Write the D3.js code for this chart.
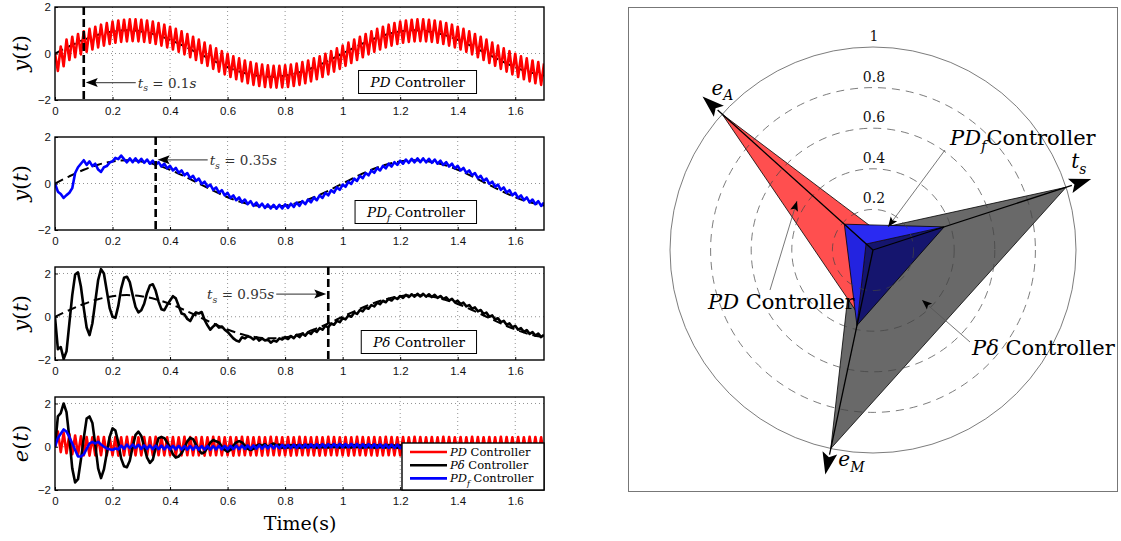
<!DOCTYPE html>
<html>
<head>
<meta charset="utf-8">
<script src="https://cdn.jsdelivr.net/npm/d3@7"></script>
<style>
	body { margin: 0; background: #fff; }
	svg { display: block; }
</style>
</head>
<body>
<script>
// =================================================
// data
// =================================================
var dt = 0.01,        // sample step of the responses (s)
	refStep = 0.05;   // sample step of the reference (s)

var xTicks = [0, 0.2, 0.4, 0.6, 0.8, 1, 1.2, 1.4, 1.6],
	xTickLabels = ["0", "0.2", "0.4", "0.6", "0.8", "1", "1.2", "1.4", "1.6"],
	yTicks = [-2, 0, 2],
	yTickLabels = ["\u22122", "0", "2"];

// reference trajectory (dashed)
var yRef = [0, .31, .59, .81, .95, 1, .95, .81, .59, .31,
	0, -.31, -.59, -.81, -.95, -1, -.95, -.81, -.59, -.31,
	0, .31, .59, .81, .95, 1, .95, .81, .59, .31,
	0, -.31, -.59, -.81, -.95];

// PD controller output
var yPD = [
	0, -.75, .3, -.55, .6, -.28, .72, -.16, .84, -.04,
	.95, .07, 1.06, .17, 1.15, .26, 1.24, .34, 1.31, .41,
	1.37, .46, 1.42, .5, 1.45, .52, 1.47, .53, 1.47, .52,
	1.45, .5, 1.42, .46, 1.37, .41, 1.31, .34, 1.24, .26,
	1.15, .17, 1.06, .07, .95, -.04, .84, -.16, .72, -.28,
	.6, -.41, .47, -.53, .34, -.66, .22, -.78, .1, -.9,
	-.01, -1.01, -.12, -1.11, -.21, -1.2, -.3, -1.28, -.37, -1.35,
	-.43, -1.4, -.48, -1.44, -.51, -1.46, -.53, -1.47, -.53, -1.46,
	-.51, -1.44, -.48, -1.4, -.43, -1.35, -.37, -1.28, -.3, -1.2,
	-.21, -1.11, -.12, -1.01, -.01, -.9, .1, -.78, .22, -.66,
	.34, -.53, .47, -.41, .6, -.28, .72, -.16, .84, -.04,
	.95, .07, 1.06, .17, 1.15, .26, 1.24, .34, 1.31, .41,
	1.37, .46, 1.42, .5, 1.45, .52, 1.47, .53, 1.47, .52,
	1.45, .5, 1.42, .46, 1.37, .41, 1.31, .34, 1.24, .26,
	1.15, .17, 1.06, .07, .95, -.04, .84, -.16, .72, -.28,
	.6, -.41, .47, -.53, .34, -.66, .22, -.78, .1, -.9,
	-.01, -1.01, -.12, -1.11, -.21, -1.2, -.3, -1.28, -.37, -1.35,
	-.43];

// PD_f controller output
var yPDf = [
	0, -.35, -.45, -.62, -.5, -.4, -.2, .45, .7, .85,
	1.0, .8, .95, .75, .85, .6, .5, .7, .75, .9,
	.95, 1.1, 1.05, 1.2, 1.05, .91, 1.08, .92, 1.08, .91,
	1.06, .89, 1.03, .85, .98, .8, .92, .73, .85, .65,
	.76, .56, .67, .46, .56, .35, .45, .23, .33, .11,
	.21, -.02, .08, -.14, -.05, -.27, -.17, -.39, -.29, -.51,
	-.4, -.62, -.51, -.72, -.6, -.81, -.69, -.89, -.76, -.96,
	-.82, -1.01, -.87, -1.05, -.9, -1.07, -.92, -1.08, -.92, -1.07,
	-.9, -1.05, -.87, -1.01, -.82, -.96, -.76, -.89, -.69, -.81,
	-.6, -.72, -.51, -.62, -.4, -.51, -.29, -.39, -.17, -.27,
	-.05, -.14, .08, -.02, .21, .11, .33, .23, .45, .35,
	.56, .46, .67, .56, .76, .65, .85, .73, .92, .8,
	.98, .85, 1.03, .89, 1.06, .91, 1.08, .92, 1.08, .91,
	1.06, .89, 1.03, .85, .98, .8, .92, .73, .85, .65,
	.76, .56, .67, .46, .56, .35, .45, .23, .33, .11,
	.21, -.02, .08, -.14, -.05, -.27, -.17, -.39, -.29, -.51,
	-.4, -.62, -.51, -.72, -.6, -.81, -.69, -.89, -.76, -.96,
	-.82];

// P-delta controller output
var yPdelta = [
	0, -1.5, -1.4, -1.95, -1.6, -.3, 1.0, 1.95, 2.05, 1.4,
	.4, -.5, -.85, -.3, .7, 1.7, 2.2, 2.0, 1.2, .4,
	0, -.05, .5, 1.3, 1.8, 1.85, 1.6, 1.0, .45, .2,
	.3, .6, 1.1, 1.45, 1.5, 1.2, .7, .35, .3, .55,
	.75, .95, .85, .5, .15, .1, -.1, -.2, .05, .2,
	.15, .22, -.15, -.4, -.6, -.45, -.35, -.5, -.45, -.6,
	-.7, -.85, -1.0, -1.1, -1.15, -.95, -1.0, -.9, -.95, -1.05,
	-.95, -1.1, -1.0, -1.1, -1.05, -1.2, -1.1, -1.15, -1.0, -1.05,
	-.95, -1.03, -.89, -.99, -.84, -.94, -.78, -.87, -.71, -.79,
	-.62, -.7, -.53, -.6, -.42, -.49, -.31, -.37, -.19, -.25,
	-.07, -.12, .06, 0, .19, .13, .31, .25, .43, .37,
	.54, .48, .65, .58, .74, .67, .83, .75, .9, .82,
	.96, .87, 1.01, .91, 1.04, .93, 1.06, .94, 1.06, .93,
	1.04, .91, 1.01, .87, .96, .82, .9, .75, .83, .67,
	.74, .58, .65, .48, .54, .37, .43, .25, .31, .13,
	.19, 0, .06, -.12, -.07, -.25, -.19, -.37, -.31, -.49,
	-.42, -.6, -.53, -.7, -.62, -.79, -.71, -.87, -.78, -.94,
	-.84];

// tracking errors
var ePD = [
	0, .7, -.25, .65, -.3, .58, -.35, .52, -.38, .48,
	-.4, .45, -.41, .44, -.4, .46, -.39, .45, -.4, .44,
	-.4, .45, -.41, .44, -.4, .46, -.39, .45, -.4, .44,
	-.4, .45, -.41, .44, -.4, .46, -.39, .45, -.4, .44,
	-.4, .45, -.41, .44, -.4, .46, -.39, .45, -.4, .44,
	-.4, .45, -.41, .44, -.4, .46, -.39, .45, -.4, .44,
	-.4, .45, -.41, .44, -.4, .46, -.39, .45, -.4, .44,
	-.4, .45, -.41, .44, -.4, .46, -.39, .45, -.4, .44,
	-.4, .45, -.41, .44, -.4, .46, -.39, .45, -.4, .44,
	-.4, .45, -.41, .44, -.4, .46, -.39, .45, -.4, .44,
	-.4, .45, -.41, .44, -.4, .46, -.39, .45, -.4, .44,
	-.4, .45, -.41, .44, -.4, .46, -.39, .45, -.4, .44,
	-.4, .45, -.41, .44, -.4, .46, -.39, .45, -.4, .44,
	-.4, .45, -.41, .44, -.4, .46, -.39, .45, -.4, .44,
	-.4, .45, -.41, .44, -.4, .46, -.39, .45, -.4, .44,
	-.4, .45, -.41, .44, -.4, .46, -.39, .45, -.4, .44,
	-.4, .45, -.41, .44, -.4, .46, -.39, .45, -.4, .44,
	-.4];

var ePdelta = [
	0, 1.4, 1.55, 2.0, 1.6, .4, -1.0, -1.65, -1.5, -.6,
	.4, 1.3, 1.4, 1.1, .1, -1.0, -1.45, -1.05, -.3, .45,
	.85, .75, .2, -.55, -.9, -.95, -.65, 0, .55, .7,
	.5, 0, -.5, -.75, -.6, -.05, .4, .45, .4, .2,
	-.05, -.35, -.5, -.45, -.3, -.05, .25, .41, .35, .1,
	-.15, -.31, -.25, -.05, .2, .31, .25, .2, 0, -.15,
	-.23, -.15, .05, .2, .26, .2, .05, -.1, -.15, -.1,
	.05, .1, .05, .12, 0, .08, .15, .05, .1, -.05,
	.05, -.04, .08, -.02, .07, -.05, .06, -.03, .09, -.02,
	.06, -.05, .07, -.03, .05, -.04, .08, -.02, .06, -.05,
	.07, -.03, .05, -.04, .08, -.02, .06, -.05, .07, -.03,
	.06, -.05, .07, -.03, .05, -.04, .08, -.02, .06, -.05,
	.07, -.03, .05, -.04, .08, -.02, .06, -.05, .07, -.03,
	.06, -.05, .07, -.03, .05, -.04, .08, -.02, .06, -.05,
	.07, -.03, .05, -.04, .08, -.02, .06, -.05, .07, -.03,
	.06, -.05, .07, -.03, .05, -.04, .08, -.02, .06, -.05,
	.07, -.03, .05, -.04, .08, -.02, .06, -.05, .07, -.03,
	.05];

var ePDf = [
	0, .4, .6, .8, .7, .45, .15, -.15, -.45, -.45,
	-.35, -.1, .15, .23, .15, .23, .1, 0, -.08, -.12,
	-.15, -.08, -.12, .05, -.1, .1, -.06, .1, -.05, .09,
	-.1, .06, -.1, .06, -.11, .05, -.11, .05, -.12, .05,
	-.12, .04, -.12, .04, -.13, .03, -.13, .03, -.13, .03,
	-.13, .03, -.13, .03, -.13, .03, -.12, .04, -.12, .04,
	-.12, .04, -.11, .05, -.11, .05, -.1, .06, -.1, .06,
	-.09, .07, -.09, .07, -.08, .08, -.08, .08, -.07, .09,
	-.07, .09, -.06, .1, -.06, .1, -.05, .11, -.05, .11,
	-.04, .12, -.04, .12, -.04, .12, -.03, .13, -.03, .13,
	-.03, .13, -.03, .13, -.03, .13, -.04, .12, -.04, .12,
	-.04, .12, -.05, .11, -.05, .11, -.06, .1, -.06, .1,
	-.07, .09, -.07, .09, -.08, .08, -.08, .08, -.09, .07,
	-.1, .06, -.1, .06, -.11, .05, -.11, .05, -.12, .05,
	-.12, .04, -.12, .04, -.13, .03, -.13, .03, -.13, .03,
	-.13, .03, -.13, .03, -.13, .03, -.12, .04, -.12, .04,
	-.12, .04, -.11, .05, -.11, .05, -.1, .06, -.1, .06,
	-.09];

// settling times: PD, PD_f, P-delta
var settlingTimes = [0.1, 0.35, 0.95],
	settlingLabels = ["0.1", "0.35", "0.95"];

// spider chart (normalised), same controller order
var radarEA = [1.0, 0.19, 0.12],
	radarEM = [0.33, 0.38, 1.0],
	radarTs = settlingTimes.map(function(v) { return v / d3.max(settlingTimes); }),
	ringLevels = [0.2, 0.4, 0.6, 0.8, 1],
	ringLabels = ["0.2", "0.4", "0.6", "0.8", "1"];

// =================================================
// helpers
// =================================================
var SERIF = "'DejaVu Serif', 'Liberation Serif', serif",
	SANS = "'Liberation Sans', Arial, sans-serif";

var svg = d3.select("body").append("svg")
	.attr("width", 1121)
	.attr("height", 541);

// text made of italic / upright / subscript pieces
function mathText(g, px, py, parts, size, anchor) {
	var t = g.append("text")
		.attr("x", px)
		.attr("y", py)
		.attr("font-family", SERIF)
		.attr("font-size", size)
		.attr("text-anchor", anchor || "start");
	var shift = 0;
	parts.forEach(function(p) {
		var s = t.append("tspan").text(p.t);
		if (p.it) s.attr("font-style", "italic");
		var want = p.sub ? size * 0.28 : 0;
		if (want !== shift) {
			s.attr("dy", want - shift);
			shift = want;
		}
		if (p.sub) s.attr("font-size", size * 0.7);
	});
	return t;
}

// filled arrow head, tip at (px,py), pointing along deg (screen degrees)
function arrowHead(g, px, py, deg, len, wid) {
	var pts = [[0, 0], [-len, -wid / 2], [-len * 0.8, 0], [-len, wid / 2]];
	g.append("path")
		.attr("d", "M" + pts.join("L") + "Z")
		.attr("transform", "translate(" + px + "," + py + ") rotate(" + deg + ")")
		.attr("fill", "#000");
}

var tsParts = function(v) {
	return [{ t: "t", it: 1 }, { t: "s", it: 1, sub: 1 }, { t: " = " + v }, { t: "s", it: 1 }];
};

// =================================================
// left column: time responses
// =================================================
var x = d3.scaleLinear().domain([0, 1.7]).range([55, 544]);
var plotTop = [7, 137, 267, 397],
	plotH = 93;

var panels = [
	{ ymax: 2, lab: "y", ref: true, series: [{ v: yPD, c: "#ff0000" }], ts: 0,
		note: { y: -1.25, dir: 1 }, legend: [{ t: "PD", it: 1 }, { t: " Controller" }] },
	{ ymax: 2, lab: "y", ref: true, series: [{ v: yPDf, c: "#0000ff" }], ts: 1,
		note: { y: 1.02, dir: 1 }, legend: [{ t: "PD", it: 1 }, { t: "f", it: 1, sub: 1 }, { t: " Controller" }] },
	{ ymax: 2.3, lab: "y", ref: true, series: [{ v: yPdelta, c: "#000000" }], ts: 2,
		note: { y: 1.05, dir: -1 }, legend: [{ t: "P\u03b4", it: 1 }, { t: " Controller" }] },
	{ ymax: 2.3, lab: "e", ref: false, series: [
		{ v: ePD, c: "#ff0000" }, { v: ePdelta, c: "#000000" }, { v: ePDf, c: "#0000ff" }] }
];

panels.forEach(function(p, i) {
	var top = plotTop[i],
		y = d3.scaleLinear().domain([-2, p.ymax]).range([top + plotH, top]),
		g = svg.append("g");

	svg.append("clipPath").attr("id", "clip" + i)
		.append("rect")
		.attr("x", x(0)).attr("y", top)
		.attr("width", x(1.7) - x(0)).attr("height", plotH);

	// dotted grid
	g.selectAll(".vg").data(xTicks.slice(1)).enter().append("line")
		.attr("x1", function(d) { return x(d); })
		.attr("x2", function(d) { return x(d); })
		.attr("y1", top).attr("y2", top + plotH)
		.attr("stroke", "#777").attr("stroke-width", 0.8).attr("stroke-dasharray", "1,3");
	g.selectAll(".hg").data(yTicks.filter(function(d) { return y(d) > top + 1 && y(d) < top + plotH - 1; }))
		.enter().append("line")
		.attr("x1", x(0)).attr("x2", x(1.7))
		.attr("y1", function(d) { return y(d); })
		.attr("y2", function(d) { return y(d); })
		.attr("stroke", "#777").attr("stroke-width", 0.8).attr("stroke-dasharray", "1,3");

	var cg = g.append("g").attr("clip-path", "url(#clip" + i + ")");

	if (p.ref) {
		cg.append("path").datum(yRef)
			.attr("d", d3.line()
				.x(function(d, j) { return x(j * refStep); })
				.y(function(d) { return y(d); })
				.curve(d3.curveCardinal))
			.attr("fill", "none").attr("stroke", "#000")
			.attr("stroke-width", 2).attr("stroke-dasharray", "9,5");
	}

	p.series.forEach(function(s) {
		cg.append("path").datum(s.v)
			.attr("d", d3.line()
				.x(function(d, j) { return x(j * dt); })
				.y(function(d) { return y(d); }))
			.attr("fill", "none").attr("stroke", s.c)
			.attr("stroke-width", 2.6).attr("stroke-linejoin", "round");
	});

	// settling time marker + note
	if (p.note) {
		var ts = settlingTimes[p.ts],
			xs = x(ts),
			ya = y(p.note.y),
			dir = p.note.dir,
			tip = xs + dir * 2,
			end = tip + dir * 50;
		g.append("line")
			.attr("x1", xs).attr("x2", xs).attr("y1", top).attr("y2", top + plotH)
			.attr("stroke", "#000").attr("stroke-width", 2.6).attr("stroke-dasharray", "8,4");
		g.append("line")
			.attr("x1", tip + dir * 8).attr("x2", end).attr("y1", ya).attr("y2", ya)
			.attr("stroke", "#555").attr("stroke-width", 1.2);
		arrowHead(g, tip, ya, dir > 0 ? 180 : 0, 12, 9);
		mathText(g, end + dir * 2, ya + 5, tsParts(settlingLabels[p.ts]), 13.5, dir > 0 ? "start" : "end")
			.attr("fill", "#333");
	}

	// axes
	var xa = g.append("g").attr("transform", "translate(0," + (top + plotH) + ")")
		.call(d3.axisBottom(x).tickValues(xTicks)
			.tickFormat(function(d, j) { return xTickLabels[j]; })
			.tickSizeInner(-3).tickSizeOuter(0).tickPadding(7));
	var ya2 = g.append("g").attr("transform", "translate(" + x(0) + ",0)")
		.call(d3.axisLeft(y).tickValues(yTicks)
			.tickFormat(function(d, j) { return yTickLabels[j]; })
			.tickSizeInner(-3).tickSizeOuter(0).tickPadding(4));
	[xa, ya2].forEach(function(a) {
		a.select(".domain").remove();
		a.selectAll("text").attr("font-family", SANS).attr("font-size", 11.5).attr("fill", "#111");
		a.selectAll(".tick line").attr("stroke", "#000");
	});

	g.append("rect")
		.attr("x", x(0)).attr("y", top)
		.attr("width", x(1.7) - x(0)).attr("height", plotH)
		.attr("fill", "none").attr("stroke", "#000").attr("stroke-width", 1.4);

	// y label
	mathText(g, 0, 0, [{ t: p.lab, it: 1 }, { t: "(" }, { t: "t", it: 1 }, { t: ")" }], 21, "middle")
		.attr("transform", "translate(28," + (top + plotH / 2) + ") rotate(-90)");

	// boxed legend
	if (p.legend) {
		var lg = g.append("g"),
			lt = mathText(lg, 465, top + 80, p.legend, 13.5, "end"),
			bb = lt.node().getBBox();
		lg.insert("rect", "text")
			.attr("x", bb.x - 11).attr("y", top + 63.5)
			.attr("width", bb.width + 22).attr("height", 23)
			.attr("fill", "#fff").attr("stroke", "#000").attr("stroke-width", 1);
	}
});

// legend of the error panel
(function() {
	var g = svg.append("g"),
		items = [
			{ c: "#ff0000", parts: [{ t: "PD", it: 1 }, { t: " Controller" }] },
			{ c: "#000000", parts: [{ t: "P\u03b4", it: 1 }, { t: " Controller" }] },
			{ c: "#0000ff", parts: [{ t: "PD", it: 1 }, { t: "f", it: 1, sub: 1 }, { t: " Controller" }] }
		];
	g.append("rect")
		.attr("x", 402).attr("y", 443)
		.attr("width", 142).attr("height", 47)
		.attr("fill", "#fff").attr("stroke", "#000").attr("stroke-width", 1.4);
	items.forEach(function(it, k) {
		var yy = 452 + k * 13.2;
		g.append("line").attr("x1", 410).attr("x2", 447).attr("y1", yy).attr("y2", yy)
			.attr("stroke", it.c).attr("stroke-width", 2.6);
		mathText(g, 450, yy + 4, it.parts, 11.5, "start");
	});
})();

mathText(svg, 300, 530, [{ t: "Time(s)" }], 19, "middle");

// =================================================
// right column: spider chart
// =================================================
var cx = 873,
	cy = 250,
	R = 203;
var rS = d3.scaleLinear().domain([0, 1]).range([0, R]);

function axisAngle(i) {
	return (138 - 120 * i) * Math.PI / 180;
}
function radarPt(i, v) {
	var a = axisAngle(i);
	return [cx + rS(v) * Math.cos(a), cy - rS(v) * Math.sin(a)];
}
function poly(pts) {
	return "M" + pts.join("L") + "Z";
}

var rg = svg.append("g");

rg.append("rect")
	.attr("x", 628.5).attr("y", 7.5)
	.attr("width", 489).attr("height", 484)
	.attr("fill", "#fff").attr("stroke", "#777").attr("stroke-width", 1);

var radarVals = settlingTimes.map(function(d, k) {
	return [radarEA[k], radarTs[k], radarEM[k]];
});
var corners = radarVals.map(function(vals) {
	return vals.map(function(v, i) { return radarPt(i, v); });
});

// P-delta (grey), PD (red)
rg.append("path").attr("d", poly(corners[2]))
	.attr("fill", "#696969").attr("stroke", "#000").attr("stroke-width", 0.8);
rg.append("path").attr("d", poly(corners[0]))
	.attr("fill", "#ff4f4f").attr("stroke", "#000").attr("stroke-width", 0.8);

// PD_f (blue) shaded as a low pyramid
var bc = corners[1],
	apex = [cx - 7, cy - 6];
rg.append("path").attr("d", poly([bc[0], bc[1], apex])).attr("fill", "#2a2af2");
rg.append("path").attr("d", poly([bc[0], apex, bc[2]])).attr("fill", "#2323e0");
rg.append("path").attr("d", poly([apex, bc[1], bc[2]])).attr("fill", "#15156e");
rg.append("path").attr("d", poly(bc))
	.attr("fill", "none").attr("stroke", "#000").attr("stroke-width", 0.8);
bc.forEach(function(c) {
	rg.append("line")
		.attr("x1", apex[0]).attr("y1", apex[1]).attr("x2", c[0]).attr("y2", c[1])
		.attr("stroke", "#000").attr("stroke-width", 0.7);
});

// rings
rg.selectAll(".ring").data(ringLevels).enter().append("circle")
	.attr("cx", cx).attr("cy", cy)
	.attr("r", function(d) { return rS(d); })
	.attr("fill", "none").attr("stroke", "#444").attr("stroke-width", 0.7)
	.attr("stroke-dasharray", function(d) { return d < 1 ? "8,6" : null; });
rg.selectAll(".ringLab").data(ringLevels).enter().append("text")
	.attr("x", cx + 1)
	.attr("y", function(d) { return cy - rS(d) - 11; })
	.attr("dy", "0.35em")
	.attr("text-anchor", "middle")
	.attr("font-family", SERIF).attr("font-size", 14).attr("fill", "#111")
	.text(function(d, k) { return ringLabels[k]; });

// axes with arrows
var axisLabels = [
	[{ t: "e", it: 1 }, { t: "A", it: 1, sub: 1 }],
	[{ t: "t", it: 1 }, { t: "s", it: 1, sub: 1 }],
	[{ t: "e", it: 1 }, { t: "M", it: 1, sub: 1 }]
];
var labelOffset = [[9, -2], [-20, -11], [13, -8]];
[0, 1, 2].forEach(function(i) {
	var end = radarPt(i, 1.03),
		tip = radarPt(i, 1.13),
		deg = -axisAngle(i) * 180 / Math.PI;
	rg.append("line")
		.attr("x1", cx).attr("y1", cy).attr("x2", end[0]).attr("y2", end[1])
		.attr("stroke", "#000").attr("stroke-width", 1.3);
	arrowHead(rg, tip[0], tip[1], deg, 22, 15);
	mathText(rg, tip[0] + labelOffset[i][0], tip[1] + labelOffset[i][1], axisLabels[i], 20, "start");
});

// call-outs
var callouts = [
	{ parts: [{ t: "PD", it: 1 }, { t: "f", it: 1, sub: 1 }, { t: "Controller" }], tx: 950, ty: 145,
		from: [945, 150], to: [888, 227] },
	{ parts: [{ t: "PD", it: 1 }, { t: " Controller" }], tx: 708, ty: 309,
		from: [770, 290], to: [797, 201] },
	{ parts: [{ t: "P\u03b4", it: 1 }, { t: " Controller" }], tx: 972, ty: 355,
		from: [970, 342], to: [922, 300] }
];
callouts.forEach(function(c) {
	rg.append("line")
		.attr("x1", c.from[0]).attr("y1", c.from[1]).attr("x2", c.to[0]).attr("y2", c.to[1])
		.attr("stroke", "#555").attr("stroke-width", 0.8);
	var deg = Math.atan2(c.to[1] - c.from[1], c.to[0] - c.from[0]) * 180 / Math.PI;
	arrowHead(rg, c.to[0], c.to[1], deg, 10, 8);
	mathText(rg, c.tx, c.ty, c.parts, 21, "start");
});
</script>
</body>
</html>
